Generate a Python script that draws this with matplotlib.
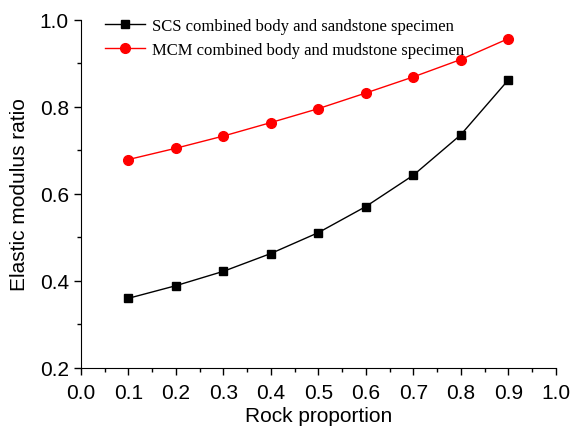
import matplotlib
matplotlib.use('Agg')
import matplotlib.pyplot as plt
import matplotlib.ticker as ticker

rock = [0.1, 0.2, 0.3, 0.4, 0.5, 0.6, 0.7, 0.8, 0.9]
scs = [0.360, 0.389, 0.422, 0.463, 0.511, 0.571, 0.643, 0.736, 0.862]
mcm = [0.679, 0.705, 0.733, 0.764, 0.796, 0.832, 0.869, 0.909, 0.957]

plt.rcParams['font.family'] = ['Liberation Sans', 'DejaVu Sans']

fig = plt.figure(figsize=(5.73, 4.27), dpi=100)
ax = fig.add_axes([0.141, 0.136, 0.829, 0.815])

ax.plot(rock, scs, color='black', marker='s', markersize=6, linewidth=1,
        label='SCS combined body and sandstone specimen')
ax.plot(rock, mcm, color='red', marker='o', markersize=7, linewidth=1,
        label='MCM combined body and mudstone specimen')

ax.set_xlim(0.0, 1.0)
ax.set_ylim(0.2, 1.0)
ax.xaxis.set_major_locator(ticker.MultipleLocator(0.1))
ax.xaxis.set_minor_locator(ticker.MultipleLocator(0.05))
ax.yaxis.set_major_locator(ticker.MultipleLocator(0.2))
ax.yaxis.set_minor_locator(ticker.MultipleLocator(0.1))
ax.xaxis.set_major_formatter(ticker.FormatStrFormatter('%.1f'))
ax.yaxis.set_major_formatter(ticker.FormatStrFormatter('%.1f'))

for s in ('top', 'right'):
    ax.spines[s].set_visible(False)
ax.tick_params(which='major', direction='out', length=5, width=1, labelsize=15)
ax.tick_params(axis='x', which='major', pad=6)
ax.tick_params(which='minor', direction='out', length=3, width=1)

ax.set_xlabel('Rock proportion', fontsize=15, labelpad=3)
ax.set_ylabel('Elastic modulus ratio', fontsize=15, labelpad=8)

ax.legend(loc='upper left', bbox_to_anchor=(0.02, 1.05), frameon=False,
          prop={'family': 'Liberation Serif', 'size': 12},
          handlelength=2.4, handletextpad=0.4, labelspacing=0.5)

fig.savefig('out.png', dpi=100)
